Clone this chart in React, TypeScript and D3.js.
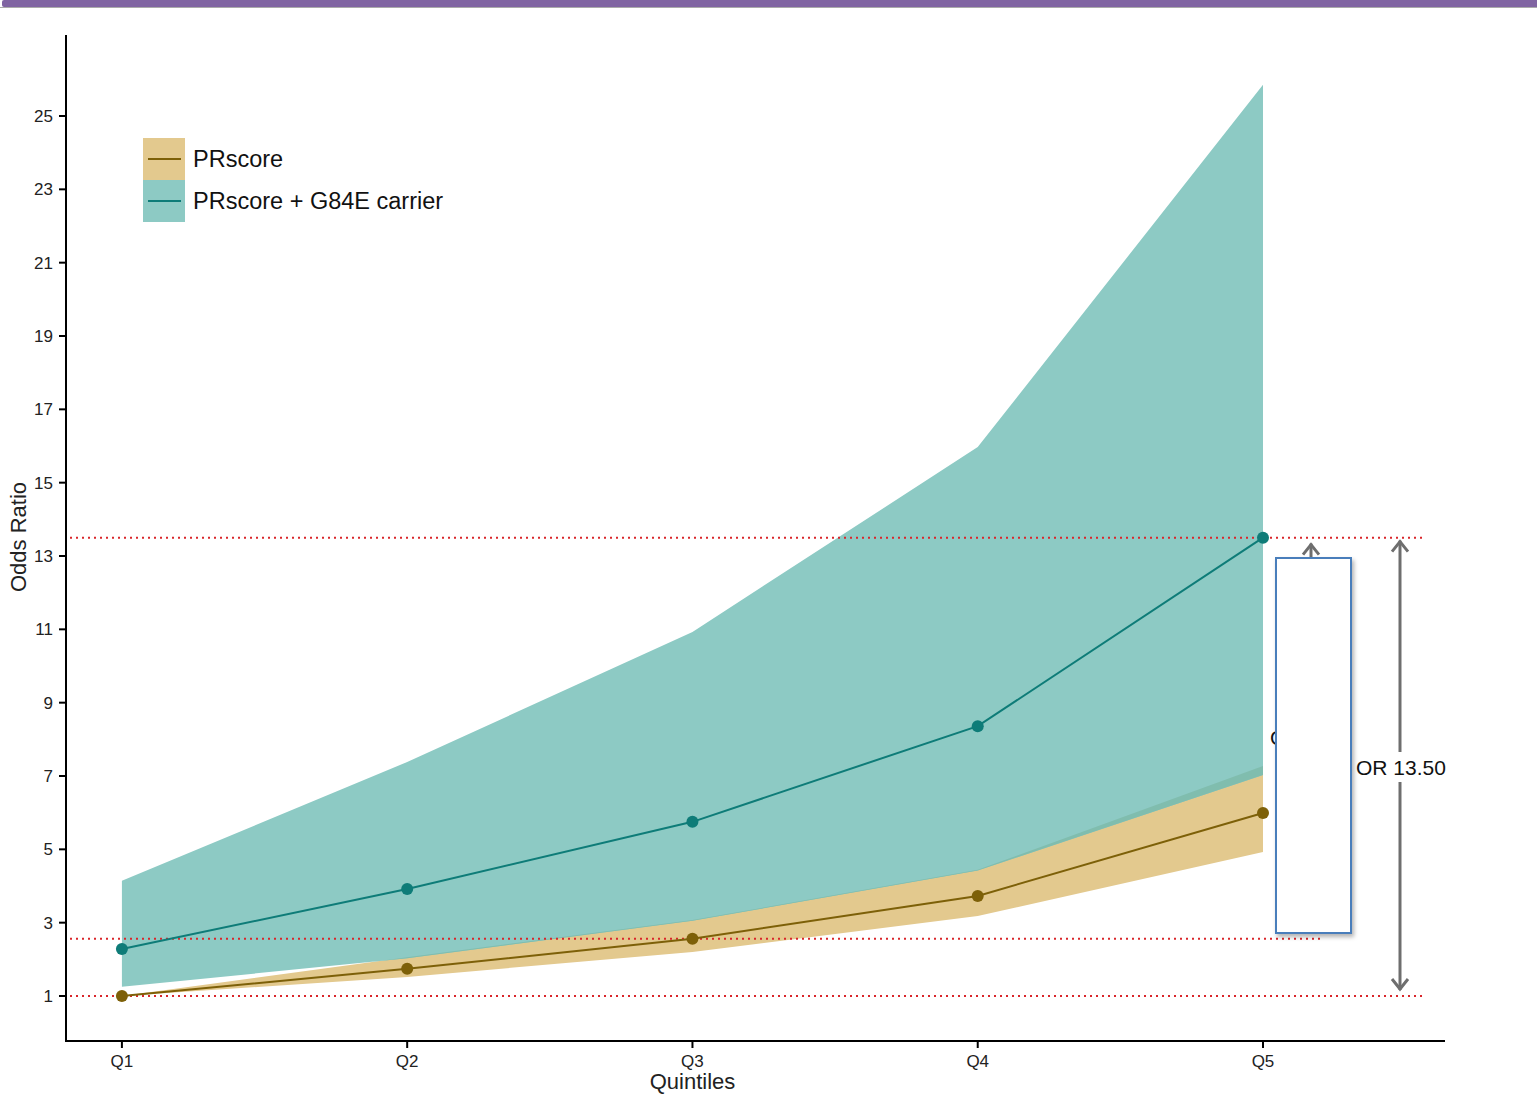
import * as d3 from "d3";
import React from "react";

// data
const quintiles = ["Q1", "Q2", "Q3", "Q4", "Q5"];
const prOR = [1.0, 1.74, 2.56, 3.73, 5.99];
const prLo = [1.0, 1.52, 2.2, 3.18, 4.93];
const prHi = [1.0, 2.06, 3.07, 4.44, 7.27];
const g84OR = [2.28, 3.92, 5.75, 8.36, 13.5];
const g84Lo = [1.25, 2.03, 3.05, 4.42, 7.03];
const g84Hi = [4.14, 7.38, 10.93, 15.97, 25.85];
const yTicks = [1, 3, 5, 7, 9, 11, 13, 15, 17, 19, 21, 23, 25];
const refLines = [13.5, 2.56, 1];
const legendItems = ["PRscore", "PRscore + G84E carrier"];

const W = 1537;
const H = 1102;
const FONT = "'Liberation Sans', Arial, sans-serif";
const TAN = "#E3C98E";
const TAN_LINE = "#7D6008";
const TEAL = "#8DCAC4";
const TEAL_LINE = "#0E7C78";
const RED = "#D9262B";
const GREY = "#6E6E6E";

export default function App() {
  const x = d3.scaleLinear().domain([-0.196, 4.638]).range([66, 1445]);
  const y = d3.scaleLinear().domain([1, 25]).range([996, 116]);

  const band = (lo: number[], hi: number[]) =>
    d3
      .area<number>()
      .x((d, i) => x(i))
      .y0((d, i) => y(lo[i]))
      .y1((d, i) => y(hi[i]))(lo) as string;
  const line = d3
    .line<number>()
    .x((d, i) => x(i))
    .y((d) => y(d));

  const xEnd = x(4.638);
  const arrowX = 1400;
  const top = y(refLines[0]);
  const bot = y(refLines[2]);
  const chevron = (cx: number, cy: number, dir: number) =>
    `M${cx - 8},${cy + dir * 10} L${cx},${cy} L${cx + 8},${cy + dir * 10}`;

  return (
    <svg width={W} height={H} style={{ position: "absolute", left: 0, top: 0, background: "#fff" }} fontFamily={FONT}>
      <defs>
        <clipPath id="tanClip">
          <path d={band(prLo, prHi)} />
        </clipPath>
        <filter id="shadow" x="-20%" y="-5%" width="150%" height="115%">
          <feDropShadow dx="2" dy="3" stdDeviation="2" floodColor="#000" floodOpacity="0.3" />
        </filter>
      </defs>

      {/* header bar */}
      <rect x={2} y={0} width={W} height={7} rx={2} fill="#8064A2" />
      <line x1={0} x2={W} y1={7.5} y2={7.5} stroke="#aaa" strokeWidth={1} />

      {/* bands */}
      <path d={band(prLo, prHi)} fill={TAN} />
      <path d={band(g84Lo, g84Hi)} fill={TEAL} />
      <path d={band(g84Lo, g84Hi)} fill="#80BDAE" clipPath="url(#tanClip)" />

      {/* reference lines */}
      {refLines.map((v, i) => (
        <line
          key={i}
          x1={70}
          x2={i === 1 ? 1322 : 1425}
          y1={y(v)}
          y2={y(v)}
          stroke={RED}
          strokeWidth={2}
          strokeDasharray="2,4"
        />
      ))}

      {/* lines + markers */}
      <path d={line(prOR) as string} fill="none" stroke={TAN_LINE} strokeWidth={2} />
      <path d={line(g84OR) as string} fill="none" stroke={TEAL_LINE} strokeWidth={2} />
      {prOR.map((d, i) => (
        <circle key={"p" + i} cx={x(i)} cy={y(d)} r={6} fill={TAN_LINE} />
      ))}
      {g84OR.map((d, i) => (
        <circle key={"g" + i} cx={x(i)} cy={y(d)} r={6} fill={TEAL_LINE} />
      ))}

      {/* axes */}
      <line x1={66} x2={66} y1={35} y2={1042} stroke="#000" strokeWidth={2} />
      <line x1={65} x2={xEnd} y1={1041} y2={1041} stroke="#000" strokeWidth={2} />
      {yTicks.map((t) => (
        <g key={t}>
          <line x1={59} x2={66} y1={y(t)} y2={y(t)} stroke="#000" strokeWidth={2} />
          <text x={53} y={y(t)} dy="0.35em" textAnchor="end" fontSize={17} fill="#222">
            {t}
          </text>
        </g>
      ))}
      {quintiles.map((q, i) => (
        <g key={q}>
          <line x1={x(i)} x2={x(i)} y1={1041} y2={1048} stroke="#000" strokeWidth={2} />
          <text x={x(i)} y={1067} textAnchor="middle" fontSize={17} fill="#222">
            {q}
          </text>
        </g>
      ))}
      <text x={x(2)} y={1089} textAnchor="middle" fontSize={22} fill="#222">
        Quintiles
      </text>
      <text transform={`translate(26,537) rotate(-90)`} textAnchor="middle" fontSize={22} fill="#222">
        Odds Ratio
      </text>

      {/* legend */}
      {legendItems.map((name, i) => (
        <g key={name} transform={`translate(143,${138 + i * 42})`}>
          <rect width={42} height={42} fill={i === 0 ? TAN : TEAL} />
          <line x1={5} x2={38} y1={21} y2={21} stroke={i === 0 ? TAN_LINE : TEAL_LINE} strokeWidth={2} />
          <text x={50} y={21} dy="0.35em" fontSize={23.5} fill="#111">
            {name}
          </text>
        </g>
      ))}

      {/* annotation */}
      <text x={1270} y={745} fontSize={21} fill="#111">
        OR 5.99
      </text>
      <line x1={1311} x2={1311} y1={top + 6} y2={565} stroke={GREY} strokeWidth={3} />
      <path d={chevron(1311, top + 7, 1)} fill="none" stroke={GREY} strokeWidth={3} />
      <rect x={1276} y={558} width={75} height={375} fill="#fff" stroke="#4A7EBB" strokeWidth={2} filter="url(#shadow)" />

      <line x1={arrowX} x2={arrowX} y1={top + 3} y2={752} stroke={GREY} strokeWidth={3} />
      <line x1={arrowX} x2={arrowX} y1={782} y2={bot - 6} stroke={GREY} strokeWidth={3} />
      <path d={chevron(arrowX, top + 4, 1)} fill="none" stroke={GREY} strokeWidth={3} />
      <path d={chevron(arrowX, bot - 7, -1)} fill="none" stroke={GREY} strokeWidth={3} />
      <text x={1356} y={775} fontSize={21} fill="#111">
        OR 13.50
      </text>
    </svg>
  );
}
